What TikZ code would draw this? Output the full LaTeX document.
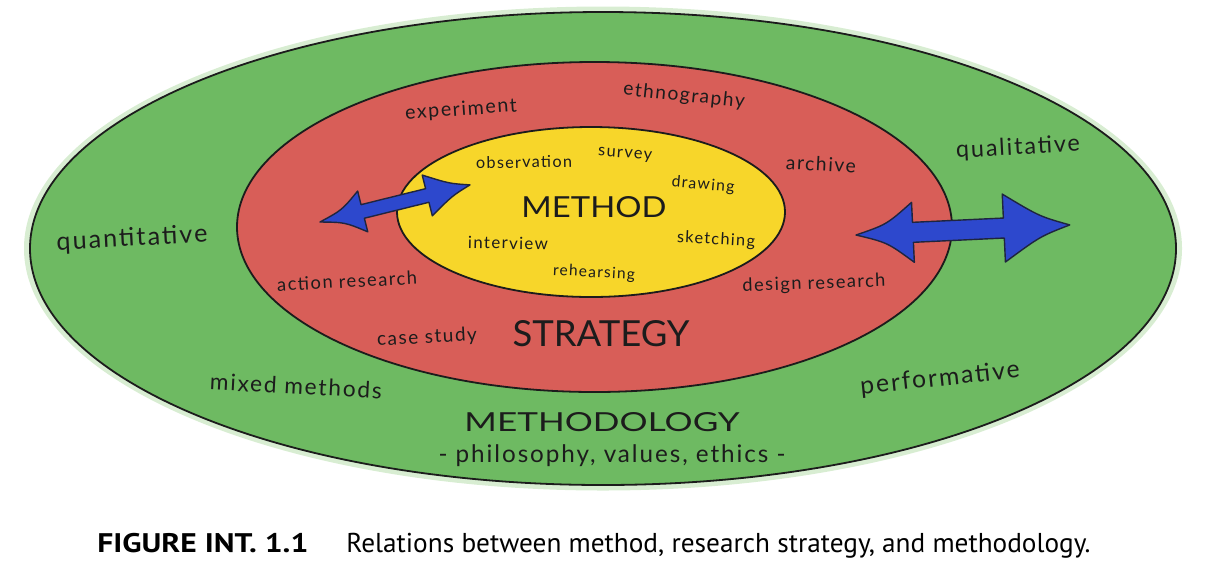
\documentclass[tikz,border=0pt]{standalone}
\usepackage{fontspec}
\setmainfont{PT Sans}
\newfontfamily\hand[LetterSpace=8]{Lato}
\newfontfamily\handcaps{Lato}
\definecolor{pgreen}{RGB}{110,186,98}
\definecolor{pgreenhalo}{RGB}{190,225,180}
\definecolor{pred}{RGB}{216,94,88}
\definecolor{pyellow}{RGB}{247,214,42}
\definecolor{pblue}{RGB}{45,72,205}
\definecolor{pline}{RGB}{28,28,28}
\newcommand{\hw}[2]{\resizebox{#1pt}{!}{\hand #2}}
\newcommand{\hwc}[3]{\resizebox{#1pt}{#2pt}{\handcaps #3}}
\tikzset{
  ring/.style={draw=pline, line width=0.9pt},
  lbl/.style={inner sep=0pt, text=pline},
  dblarrow/.style={fill=pblue, draw=pline!80!pblue, line width=0.7pt, line join=round},
  captext/.style={inner sep=0pt, anchor=base west, text=black}
}
\begin{document}
\begin{tikzpicture}[x=0.5pt,y=-0.5pt]
\useasboundingbox (0,0) rectangle (1208,574);
% rings
\fill[pgreenhalo, opacity=0.6] (603,248.5) ellipse [x radius=579, y radius=242];
\path[ring, fill=pgreen] (603,248.5) ellipse [x radius=573, y radius=236.5];
\path[ring, fill=pred] (594.5,227) ellipse [x radius=357.5, y radius=165];
\path[ring, fill=pyellow] (591,212) ellipse [x radius=194, y radius=85];
% left double arrow
\begin{scope}[shift={(320,222)}, rotate=13.9]
\path[dblarrow] (44,-7) -- (110.5,-7) -- (110.5,-21)
  .. controls (134.7,-6.3) .. (154.5,0)
  .. controls (134.7,6.3) .. (110.5,21) -- (110.5,7) -- (44,7) -- (44,21)
  .. controls (24.2,6.3) .. (0,0)
  .. controls (24.2,-6.3) .. (44,-21) -- cycle;
\end{scope}
% right double arrow
\begin{scope}[shift={(856,235)}, rotate=2.7]
\path[dblarrow] (57,-10) -- (148,-10) -- (148,-34)
  .. controls (184,-10) .. (214,0)
  .. controls (184,10) .. (148,34) -- (148,10) -- (57,10) -- (57,30)
  .. controls (31,9) .. (0,0)
  .. controls (31,-9) .. (57,-30) -- cycle;
\end{scope}
% method labels
\node[lbl] (method) at (594,207) {\hwc{72.5}{10.5}{METHOD}};
\node[lbl, rotate=1] (observation) at (524,162) {\hw{48}{observation}};
\node[lbl, rotate=-4] (survey) at (625,155) {\hw{27}{survey}};
\node[lbl, rotate=-5] (drawing) at (703,185) {\hw{31.5}{drawing}};
\node[lbl, rotate=-1] (interview) at (508,243) {\hw{40}{interview}};
\node[lbl, rotate=-3] (sketching) at (716,240) {\hw{39}{sketching}};
\node[lbl, rotate=-3] (rehearsing) at (594,273) {\hw{41}{rehearsing}};
% strategy labels
\node[lbl] (strategy) at (601,334) {\hwc{88.5}{13}{STRATEGY}};
\node[lbl, rotate=4] (experiment) at (461,110) {\hw{56}{experiment}};
\node[lbl, rotate=-6] (ethnography) at (684,96) {\hw{61}{ethnography}};
\node[lbl, rotate=-3] (archive) at (821,164) {\hw{35}{archive}};
\node[lbl, rotate=3] (actionresearch) at (347,281) {\hw{70}{action research}};
\node[lbl, rotate=2] (designresearch) at (814,284) {\hw{71.5}{design research}};
\node[lbl, rotate=3] (casestudy) at (427,338) {\hw{50}{case study}};
% methodology labels
\node[lbl] (methodology) at (602,422) {\hwc{137.5}{9.5}{METHODOLOGY}};
\node[lbl] (values) at (612,456) {\hw{173.5}{- philosophy, values, ethics -}};
\node[lbl, rotate=3] (qualitative) at (1018,148) {\hw{62}{qualitative}};
\node[lbl, rotate=3] (quantitative) at (132,239) {\hw{75.5}{quantitative}};
\node[lbl, rotate=-3] (mixedmethods) at (296,386) {\hw{86}{mixed methods}};
\node[lbl, rotate=6] (performative) at (940,379) {\hw{80}{performative}};
% caption
\node[captext] (figlabel) at (97,552) {\resizebox{105.5pt}{9.6pt}{\bfseries FIGURE INT.~1.1}};
\node[captext] (figtext) at (346,552) {\resizebox{372pt}{!}{\fontsize{14}{16}\selectfont Relations between method, research strategy, and methodology.}};
\end{tikzpicture}
\end{document}
